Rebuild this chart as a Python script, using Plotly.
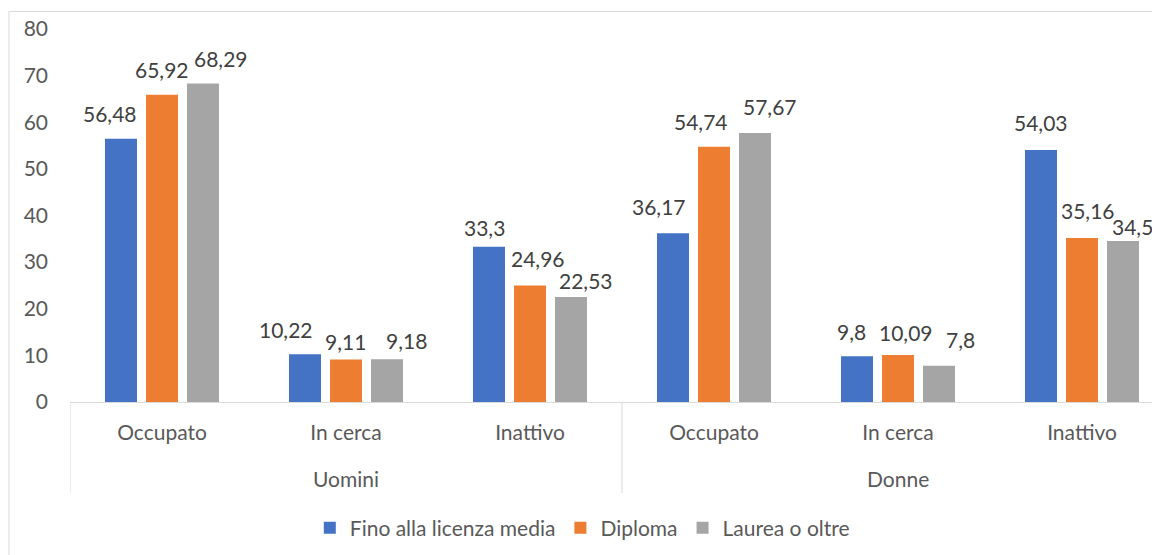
import plotly.graph_objects as go

# ---------------- data ----------------
groups = ["Uomini", "Donne"]
statuses = ["Occupato", "In cerca", "Inattivo"]
categories = statuses * len(groups)
series_names = ["Fino alla licenza media", "Diploma", "Laurea o oltre"]
fino_licenza_media = [56.48, 10.22, 33.3, 36.17, 9.8, 54.03]
diploma = [65.92, 9.11, 24.96, 54.74, 10.09, 35.16]
laurea_o_oltre = [68.29, 9.18, 22.53, 57.67, 7.8, 34.52]
y_ticks = [0, 10, 20, 30, 40, 50, 60, 70, 80]

# ---------------- style ----------------
colors = ["#4472C4", "#ED7D31", "#A5A5A5"]
FONT = "Lato"
TXT = "#595959"
LBL = "#404040"
LINE = "#D9D9D9"
FS = 21
BARGAP = 0.3315
BARGROUPGAP = 0.22
CAT_PX = 184          # pixel width of one category
PLOT_PX = 1090        # visible plot width (plot runs past the window edge)
# data-label nudges in pixels (Excel label de-overlapping), per series / category
label_dx = [[-11, -19, -5, -14, -6, 0],
            [0, -1, 8, -13, 8, 6],
            [18, 19, 15, 15, 21, 16]]
label_dy = [[0, -1, -6, 1, -1, 2],
            [0, -7, 2, 0, -3, 2],
            [0, -7, -9, 1, 1, -11]]
BASE_SHIFT = 11

x_idx = list(range(len(categories)))
slot = (1 - BARGAP) / len(series_names)

fig = go.Figure()
all_series = [fino_licenza_media, diploma, laurea_o_oltre]
for j, (name, vals, col) in enumerate(zip(series_names, all_series, colors)):
    fig.add_bar(x=x_idx, y=vals, name=name, marker_color=col,
                marker_line_width=0)
    for i, v in enumerate(vals):
        fig.add_annotation(
            x=i + (j - (len(series_names) - 1) / 2) * slot, y=v,
            xref="x", yref="y",
            text=f"{v}".replace(".", ","), showarrow=False,
            xanchor="center", yanchor="bottom",
            xshift=label_dx[j][i], yshift=BASE_SHIFT + label_dy[j][i],
            font=dict(family=FONT, size=FS, color=LBL))

# group labels on the second axis row
n = len(statuses)
for g, name in enumerate(groups):
    fig.add_annotation(x=g * n + (n - 1) / 2, y=-0.204, xref="x", yref="paper",
                       text=name, showarrow=False, xanchor="center", yanchor="middle",
                       font=dict(family=FONT, size=FS, color=TXT))
# group dividers
for g in range(len(groups) + 1):
    fig.add_shape(type="line", xref="x", yref="paper",
                  x0=g * n - 0.5, x1=g * n - 0.5, y0=0, y1=-0.244,
                  line=dict(color=LINE, width=1))

# chart border
fig.add_shape(type="rect", xref="paper", yref="paper",
              x0=-0.056, x1=1.2, y0=-0.6, y1=1.047,
              line=dict(color=LINE, width=1), layer="below")

fig.update_layout(
    width=1152, height=547,
    margin=dict(l=62, r=0, t=21, b=153, pad=0, autoexpand=False),
    paper_bgcolor="white", plot_bgcolor="white",
    barmode="group", bargap=BARGAP, bargroupgap=BARGROUPGAP,
    separators=",.",
    font=dict(family=FONT, size=FS, color=TXT),
    showlegend=True,
    legend=dict(orientation="h", x=0.47, xanchor="center", y=-0.338,
                yanchor="middle", font=dict(family=FONT, size=FS, color=TXT),
                traceorder="normal", bgcolor="rgba(0,0,0,0)"),
)
fig.update_xaxes(
    tickmode="array", tickvals=x_idx, ticktext=categories,
    range=[-0.5, -0.5 + PLOT_PX / CAT_PX],
    showline=True, linecolor=LINE, linewidth=1,
    showgrid=False, zeroline=False, ticks="",
    tickfont=dict(family=FONT, size=FS, color=TXT),
    ticklabelstandoff=12,
)
fig.update_yaxes(
    range=[0, 80], tickmode="array", tickvals=y_ticks,
    showgrid=False, zeroline=False, showline=False, ticks="",
    tickfont=dict(family=FONT, size=FS, color=TXT),
    ticklabelstandoff=21,
)

fig.write_html("out.html")
